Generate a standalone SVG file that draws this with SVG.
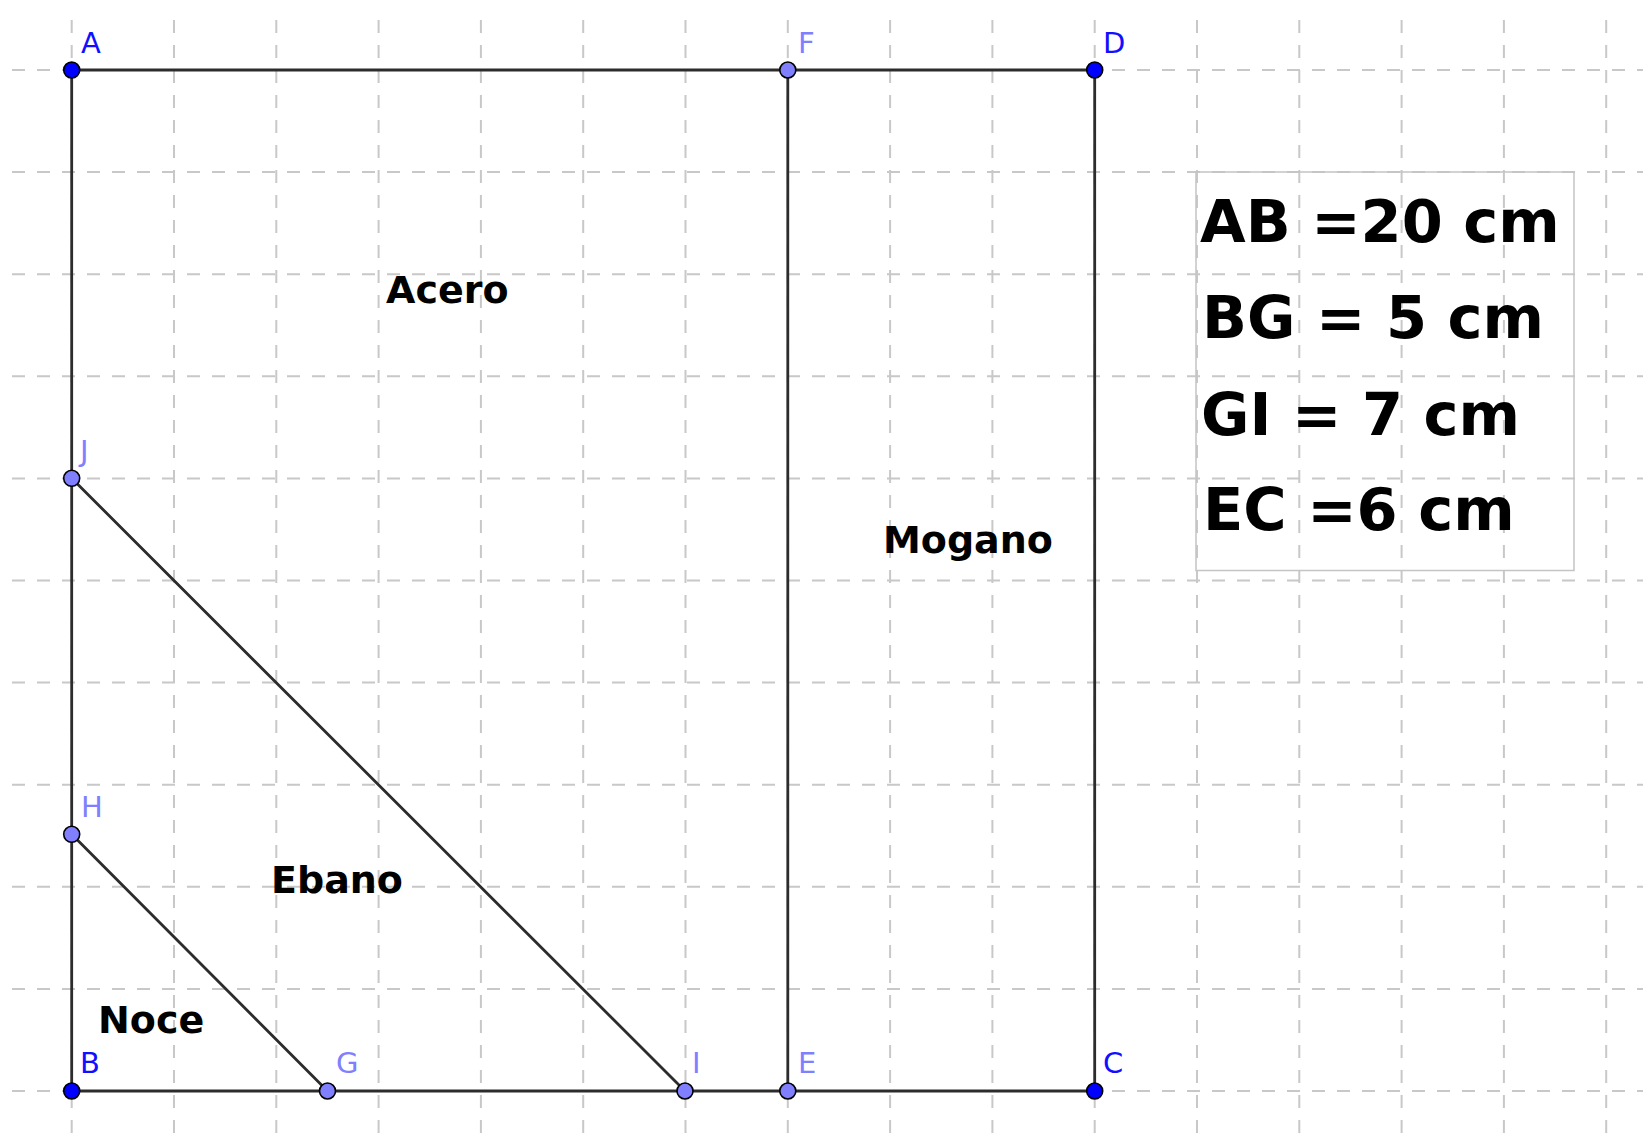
<svg xmlns="http://www.w3.org/2000/svg" width="1643" height="1139" viewBox="0 0 1643 1139">
<style>
.grid line{stroke:#c8c8c8;stroke-width:2;stroke-dasharray:13 12}
.seg line{stroke:#2c2c2c;stroke-width:2.8;stroke-linecap:round}
.free{fill:#0000ff;stroke:#000;stroke-width:1.6}
.dep{fill:#8080ff;stroke:#000;stroke-width:1.6}
.lbl{font-family:"DejaVu Sans",sans-serif;font-size:29px}
.lf{fill:#1010ff}
.ld{fill:#8080ff}
.region{font-family:"DejaVu Sans",sans-serif;font-weight:bold;font-size:38px;fill:#000}
.info{font-family:"DejaVu Sans",sans-serif;font-weight:bold;font-size:59px;fill:#000}
</style>
<rect x="0" y="0" width="1643" height="1139" fill="#fff"/>
<g class="grid" id="grid">
<line x1="12" y1="70" x2="1643" y2="70"/>
<line x1="12" y1="172.1" x2="1643" y2="172.1"/>
<line x1="12" y1="274.2" x2="1643" y2="274.2"/>
<line x1="12" y1="376.3" x2="1643" y2="376.3"/>
<line x1="12" y1="478.4" x2="1643" y2="478.4"/>
<line x1="12" y1="580.5" x2="1643" y2="580.5"/>
<line x1="12" y1="682.6" x2="1643" y2="682.6"/>
<line x1="12" y1="784.7" x2="1643" y2="784.7"/>
<line x1="12" y1="886.8" x2="1643" y2="886.8"/>
<line x1="12" y1="988.9" x2="1643" y2="988.9"/>
<line x1="12" y1="1091" x2="1643" y2="1091"/>
<line x1="71.7" y1="20" x2="71.7" y2="1139"/>
<line x1="174" y1="20" x2="174" y2="1139"/>
<line x1="276.3" y1="20" x2="276.3" y2="1139"/>
<line x1="378.6" y1="20" x2="378.6" y2="1139"/>
<line x1="480.9" y1="20" x2="480.9" y2="1139"/>
<line x1="583.2" y1="20" x2="583.2" y2="1139"/>
<line x1="685.5" y1="20" x2="685.5" y2="1139"/>
<line x1="787.8" y1="20" x2="787.8" y2="1139"/>
<line x1="890.1" y1="20" x2="890.1" y2="1139"/>
<line x1="992.4" y1="20" x2="992.4" y2="1139"/>
<line x1="1094.7" y1="20" x2="1094.7" y2="1139"/>
<line x1="1197" y1="20" x2="1197" y2="1139"/>
<line x1="1299.3" y1="20" x2="1299.3" y2="1139"/>
<line x1="1401.6" y1="20" x2="1401.6" y2="1139"/>
<line x1="1503.9" y1="20" x2="1503.9" y2="1139"/>
<line x1="1606.2" y1="20" x2="1606.2" y2="1139"/>
</g>
<g id="infobox">
<rect x="1196" y="172" width="378" height="398.5" fill="none" stroke="#c4c4c4" stroke-width="1.5"/>
<text class="info" x="1200" y="242">AB =20 cm</text>
<text class="info" x="1202" y="338">BG = 5 cm</text>
<text class="info" x="1201" y="435">GI = 7 cm</text>
<text class="info" x="1203" y="530">EC =6 cm</text>
</g>
<g class="seg" id="connectors">
<line x1="71.7" y1="70" x2="1094.7" y2="70"/>
<line x1="71.7" y1="70" x2="71.7" y2="1091"/>
<line x1="1094.7" y1="70" x2="1094.7" y2="1091"/>
<line x1="71.7" y1="1091" x2="1094.7" y2="1091"/>
<line x1="787.8" y1="70" x2="787.8" y2="1091"/>
<line x1="71.7" y1="834.3" x2="327.5" y2="1091"/>
<line x1="71.7" y1="478.3" x2="685" y2="1091"/>
</g>
<g id="regions">
<text class="region" x="386" y="303">Acero</text>
<text class="region" x="883" y="553">Mogano</text>
<text class="region" x="271" y="893">Ebano</text>
<text class="region" x="98" y="1033">Noce</text>
</g>
<g id="A"><circle class="free" cx="71.7" cy="70" r="8"/><text class="lbl lf" x="81" y="53">A</text></g>
<g id="F"><circle class="dep" cx="787.8" cy="70" r="8"/><text class="lbl ld" x="798" y="53">F</text></g>
<g id="D"><circle class="free" cx="1094.7" cy="70" r="8"/><text class="lbl lf" x="1103" y="53">D</text></g>
<g id="J"><circle class="dep" cx="71.7" cy="478.3" r="8"/><text class="lbl ld" x="80" y="461">J</text></g>
<g id="H"><circle class="dep" cx="71.7" cy="834.3" r="8"/><text class="lbl ld" x="81" y="817">H</text></g>
<g id="B"><circle class="free" cx="71.7" cy="1091" r="8"/><text class="lbl lf" x="80" y="1073">B</text></g>
<g id="G"><circle class="dep" cx="327.5" cy="1091" r="8"/><text class="lbl ld" x="336" y="1073">G</text></g>
<g id="I"><circle class="dep" cx="685" cy="1091" r="8"/><text class="lbl ld" x="692" y="1073">I</text></g>
<g id="E"><circle class="dep" cx="787.8" cy="1091" r="8"/><text class="lbl ld" x="798" y="1073">E</text></g>
<g id="C"><circle class="free" cx="1094.7" cy="1091" r="8"/><text class="lbl lf" x="1103" y="1073">C</text></g>
</svg>
